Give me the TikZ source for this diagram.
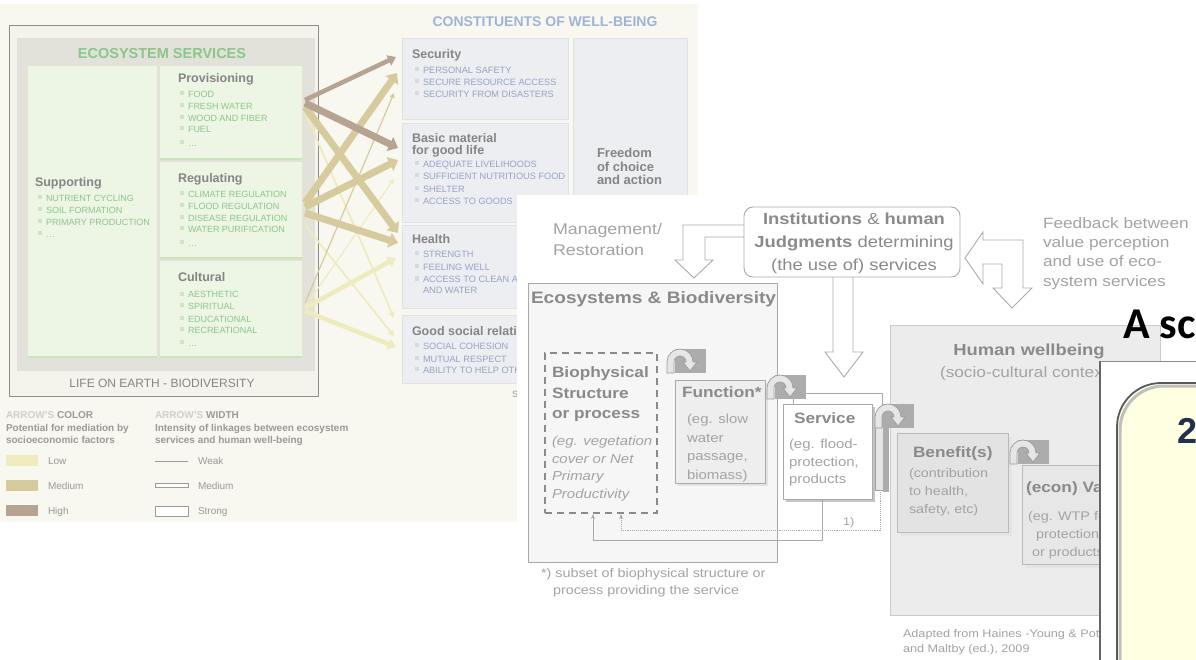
\documentclass[tikz,border=0pt]{standalone}
\usepackage{fontspec}
\setmainfont{Liberation Sans}
\newfontfamily\teeb[FakeStretch=1.15]{Liberation Sans}
\newfontfamily\calib{Carlito}
\usetikzlibrary{arrows.meta}
\newcommand\fsz[1]{\fontsize{#1}{#1}\selectfont}
% layer 1 colours
\definecolor{cream}{HTML}{F8F8F1}
\definecolor{lifefill}{HTML}{F4F4EC}
\definecolor{lifeline}{HTML}{8E8E88}
\definecolor{panelgray}{HTML}{E2E2DA}
\definecolor{lgreen}{HTML}{EDF5E4}
\definecolor{gline}{HTML}{CBE4B9}
\definecolor{gtext}{HTML}{8CC68A}
\definecolor{gbul}{HTML}{CFE3C5}
\definecolor{hgray}{HTML}{858585}
\definecolor{bhead}{HTML}{A0B3D6}
\definecolor{btext}{HTML}{95A3C4}
\definecolor{bbul}{HTML}{D5D9E3}
\definecolor{cboxc}{HTML}{EDEEF1}
\definecolor{cboxl}{HTML}{E0E2E6}
\definecolor{legl}{HTML}{CFCFCB}
\definecolor{legd}{HTML}{9A9A96}
\definecolor{abrown}{HTML}{B6A392}
\definecolor{atan}{HTML}{D5CB9C}
\definecolor{alight}{HTML}{EFEBBE}
% layer 2 colours
\definecolor{th}{HTML}{8A8A8A}
\definecolor{tl}{HTML}{A3A3A3}
\definecolor{bd}{HTML}{AAAAAA}
\definecolor{ecofill}{HTML}{F6F6F6}
\definecolor{funcfill}{HTML}{EEEEEE}
\definecolor{hwfill}{HTML}{ECECEC}
\definecolor{hwline}{HTML}{CACACA}
\definecolor{benfill}{HTML}{E3E3E3}
\definecolor{benline}{HTML}{B9B9B9}
\definecolor{iconrect}{HTML}{ACACAC}
\definecolor{archfill}{HTML}{E6E6E6}
\definecolor{archline}{HTML}{9C9C9C}
% layer 3 colours
\definecolor{yellowbox}{HTML}{FFFFE2}
\definecolor{navy}{HTML}{22304F}
\tikzset{
  box0/.style={anchor=north west, inner sep=0pt, outer sep=0pt},
  t/.style={anchor=base west, inner sep=0pt, outer sep=0pt},
  tc/.style={anchor=base, inner sep=0pt, outer sep=0pt},
  gbox/.style={box0, fill=lgreen},
  cbox/.style={box0, fill=cboxc, draw=cboxl, line width=0.6pt},
  hd/.style={t, text=hgray, font=\bfseries\fsz{12.5}},
  gi/.style={t, text=gtext, font=\fsz{9}},
  bi/.style={t, text=btext, font=\fsz{9.2}},
  leg/.style={t, text=legd, font=\bfseries\fsz{10}},
  legs/.style={t, text=legd, font=\fsz{10}},
  arrT/.style={line width=7pt, -{Triangle[length=9pt,width=15pt]}},
  arrM/.style={line width=4.5pt, -{Triangle[length=8pt,width=11pt]}},
  arrS/.style={line width=1.8pt, -{Triangle[length=6pt,width=6pt]}},
  arrXS/.style={line width=1.2pt, -{Triangle[length=5pt,width=5pt]}},
  hollow/.style={draw=bd, fill=white, line width=0.9pt, line join=miter},
  turnicon/.pic={
    \fill[iconrect] (9,3) rectangle (40,27);
    \path[fill=archfill, draw=archline, line width=0.7pt] (1,27) -- (1,16)
      arc[start angle=180, end angle=360, radius=13] -- (31,16) -- (24,25) -- (17,16) -- (20,16)
      arc[start angle=360, end angle=180, radius=6] -- (8,27) -- cycle;
  }
}
\newcommand\itemlist[5]{%
  \foreach \s/\y [count=\i] in {#5}{%
    \fill[#4] (#2,\y-6.5) rectangle +(4,4);
    \node[#3] (#1\i) at (#2+8,\y) {\s};
  }}
\begin{document}
\begin{tikzpicture}[x=1pt,y=-1pt]
\useasboundingbox (0,0) rectangle (1196,660);
\fill[white] (0,0) rectangle (1196,660);

% ================= LAYER 1 : MA framework =================
\fill[cream] (0,4) rectangle (698,522);
\node[box0, draw=lifeline, line width=0.9pt, fill=lifefill, minimum width=309pt, minimum height=371pt] (life) at (9,25) {};
\node[box0, fill=panelgray, minimum width=298pt, minimum height=333pt] (espanel) at (17,38) {};
\node[tc, font=\bfseries\fsz{14.5}, text=gtext] (estitle) at (162,59) {ECOSYSTEM SERVICES};
\node[gbox, minimum width=129pt, minimum height=291pt] (supp) at (28,66) {};
\node[gbox, minimum width=142pt, minimum height=93pt] (prov) at (160,66) {};
\node[gbox, minimum width=142pt, minimum height=96pt] (reg) at (160,162) {};
\node[gbox, minimum width=142pt, minimum height=96pt] (cult) at (160,261) {};
\foreach \b in {supp,prov,reg,cult} \draw[gline, line width=2pt] (\b.south west) -- (\b.south east);
\node[tc, font=\fsz{12}, text=hgray] (lifet) at (162,387) {LIFE ON EARTH - BIODIVERSITY};

\node[hd] (supph) at (35,187) {Supporting};
\node[hd] (provh) at (178,83) {Provisioning};
\node[hd] (regh) at (178,183) {Regulating};
\node[hd] (culth) at (178,282) {Cultural};
\itemlist{si}{38}{gi}{gbul}{NUTRIENT CYCLING/202,SOIL FORMATION/214,PRIMARY PRODUCTION/226,\dots/238}
\itemlist{pi}{180}{gi}{gbul}{FOOD/98,FRESH WATER/110,WOOD AND FIBER/122,FUEL/133,\dots/147}
\itemlist{ri}{180}{gi}{gbul}{CLIMATE REGULATION/198,FLOOD REGULATION/210,DISEASE REGULATION/222,WATER PURIFICATION/233,\dots/247}
\itemlist{ci}{180}{gi}{gbul}{AESTHETIC/298,SPIRITUAL/309,EDUCATIONAL/322,RECREATIONAL/333,\dots/346}

% constituents of well-being
\node[tc, font=\bfseries\fsz{14}, text=bhead] (cwtitle) at (545,27) {CONSTITUENTS OF WELL-BEING};
\node[cbox, minimum width=166pt, minimum height=81pt] (sec) at (402,38) {};
\node[cbox, minimum width=166pt, minimum height=99pt] (basic) at (402,123) {};
\node[cbox, minimum width=166pt, minimum height=83pt] (health) at (402,225) {};
\node[cbox, minimum width=166pt, minimum height=68pt] (social) at (402,315) {};
\node[cbox, minimum width=114pt, minimum height=345pt] (freedom) at (573,38) {};
\node[hd] (sech) at (412,59) {Security};
\node[hd] (basich1) at (412,143) {Basic material};
\node[hd] (basich2) at (412,155) {for good life};
\node[hd] (healthh) at (412,244) {Health};
\node[hd] (socialh) at (412,335) {Good social relations};
\itemlist{qi}{415}{bi}{bbul}{PERSONAL SAFETY/74,SECURE RESOURCE ACCESS/86,SECURITY FROM DISASTERS/98}
\itemlist{bmi}{415}{bi}{bbul}{ADEQUATE LIVELIHOODS/168,SUFFICIENT NUTRITIOUS FOOD/180,SHELTER/193,ACCESS TO GOODS/205}
\itemlist{hi}{415}{bi}{bbul}{STRENGTH/258,FEELING WELL/271,ACCESS TO CLEAN AIR/283}
\node[bi] (hi4) at (423,294) {AND WATER};
\itemlist{gsi}{415}{bi}{bbul}{SOCIAL COHESION/349,MUTUAL RESPECT/362,ABILITY TO HELP OTHERS/373}
\node[hd, font=\bfseries\fsz{13}] (fr1) at (597,158) {Freedom};
\node[hd, font=\bfseries\fsz{13}] (fr2) at (597,172) {of choice};
\node[hd, font=\bfseries\fsz{13}] (fr3) at (597,185) {and action};
\node[legs, font=\fsz{9}] (srcS) at (512,397) {S};

% linkage arrows
\coordinate (pA) at (305,100); \coordinate (pB) at (305,103); \coordinate (pC) at (305,107); \coordinate (pD) at (305,112);
\coordinate (rA) at (305,203); \coordinate (rB) at (305,207); \coordinate (rC) at (305,213); \coordinate (rD) at (305,225);
\coordinate (cA) at (305,303); \coordinate (cB) at (305,307); \coordinate (cC) at (305,308); \coordinate (cD) at (305,311);
\coordinate (sA) at (396,57); \coordinate (sB) at (397,73); \coordinate (sC) at (394,93);
\coordinate (bA) at (398,148); \coordinate (bB) at (398,160); \coordinate (bC) at (394,179);
\coordinate (hA) at (398,233); \coordinate (hB) at (398,243); \coordinate (hC) at (396,258);
\coordinate (gA) at (394,318); \coordinate (gB) at (394,336); \coordinate (gC) at (396,347);
\draw[alight, arrS] (pD) -- (gA);
\draw[alight, arrS] (rD) -- (gB);
\draw[alight, arrXS] (cB) -- (bC);
\draw[alight, arrM] (cC) -- (hC);
\draw[alight, arrM] (cD) -- (gC);
\draw[atan, arrXS] (cA) -- (sC);
\draw[atan, arrT] (pC) -- (hA);
\draw[atan, arrT] (rA) -- (sB);
\draw[atan, arrT] (rB) -- (bB);
\draw[atan, arrT] (rC) -- (hB);
\draw[abrown, arrM] (pA) -- (sA);
\draw[abrown, arrT] (pB) -- (bA);

% legend
\node[leg] (lc1) at (6,418) {\textcolor{legl}{ARROW'S} COLOR};
\node[leg] (lc2) at (6,431) {Potential for mediation by};
\node[leg] (lc3) at (6,443) {socioeconomic factors};
\node[box0, fill=alight, minimum width=32pt, minimum height=11pt] (swl) at (6,455) {};
\node[box0, fill=atan, minimum width=32pt, minimum height=11pt] (swm) at (6,480) {};
\node[box0, fill=abrown, minimum width=32pt, minimum height=11pt] (swh) at (6,505) {};
\node[legs] (lcl) at (48,464) {Low};
\node[legs] (lcm) at (48,489) {Medium};
\node[legs] (lch) at (48,514) {High};
\node[leg] (lw1) at (155,418) {\textcolor{legl}{ARROW'S} WIDTH};
\node[leg] (lw2) at (155,431) {Intensity of linkages between ecosystem};
\node[leg] (lw3) at (155,443) {services and human well-being};
\draw[legd, line width=0.9pt] (155,461) -- (188,461);
\draw[legd, line width=0.6pt, fill=white] (155,483) rectangle (188,487);
\draw[legd, line width=0.6pt, fill=white] (155,506) rectangle (188,516);
\node[legs] (lww) at (198,464) {Weak};
\node[legs] (lwm) at (198,489) {Medium};
\node[legs] (lws) at (198,514) {Strong};

% ================= LAYER 2 : TEEB cascade =================
\fill[white] (517,195) rectangle (1196,660);
\node[t, font={\teeb\fsz{15.5}}, text=tl] (mg1) at (553,235) {Management/};
\node[t, font={\teeb\fsz{15.5}}, text=tl] (mg2) at (553,255) {Restoration};
\node[t, font={\teeb\fsz{15}}, text=tl] (fb1) at (1043,229) {Feedback between};
\node[t, font={\teeb\fsz{15}}, text=tl] (fb2) at (1043,248) {value perception};
\node[t, font={\teeb\fsz{15}}, text=tl] (fb3) at (1043,267) {and use of eco-};
\node[t, font={\teeb\fsz{15}}, text=tl] (fb4) at (1043,287) {system services};

% ecosystems box
\node[box0, fill=ecofill, draw=bd, line width=0.9pt, minimum width=249pt, minimum height=279pt] (eco) at (528,283) {};
\node[t, font={\teeb\bfseries\fsz{16.6}}, text=th] (ecot) at (531,303) {Ecosystems \& Biodiversity};
\node[box0, draw=th, line width=2pt, dash pattern=on 7pt off 5pt, minimum width=112pt, minimum height=160pt] (bio) at (545,353) {};
\node[t, font={\teeb\bfseries\fsz{15}}, text=th] (bio1) at (552,377) {Biophysical};
\node[t, font={\teeb\bfseries\fsz{15}}, text=th] (bio2) at (552,398) {Structure};
\node[t, font={\teeb\bfseries\fsz{15}}, text=th] (bio3) at (552,418) {or process};
\node[t, font={\teeb\itshape\fsz{13}}, text=tl] (bio4) at (552,445) {(eg. vegetation};
\node[t, font={\teeb\itshape\fsz{13}}, text=tl] (bio5) at (552,463) {cover or Net};
\node[t, font={\teeb\itshape\fsz{13}}, text=tl] (bio6) at (552,480) {Primary};
\node[t, font={\teeb\itshape\fsz{13}}, text=tl] (bio7) at (552,498) {Productivity};

% function box
\fill[benfill] (678,383) rectangle (768,486);
\node[box0, fill=funcfill, draw=bd, line width=0.8pt, minimum width=90pt, minimum height=103pt] (func) at (675,380) {};
\node[t, font={\teeb\bfseries\fsz{15}}, text=th] (func1) at (682,397) {Function*};
\node[t, font={\teeb\fsz{13}}, text=tl] (func2) at (687,423) {(eg. slow};
\node[t, font={\teeb\fsz{13}}, text=tl] (func3) at (687,442) {water};
\node[t, font={\teeb\fsz{13}}, text=tl] (func4) at (687,460) {passage,};
\node[t, font={\teeb\fsz{13}}, text=tl] (func5) at (687,479) {biomass)};

% service boxes
\node[box0, fill=white, draw=bd, line width=0.8pt, minimum width=89pt, minimum height=97pt] (svcback) at (793,393) {};
\path[fill=archfill, draw=archline, line width=0.7pt] (875,426) rectangle (883,490);
\fill[iconrect] (883,426) rectangle (889,492);
\fill[iconrect!70] (786,407) rectangle (875,502);
\node[box0, fill=white, draw=bd, line width=0.8pt, minimum width=89pt, minimum height=95pt] (svc) at (783,404) {};
\node[t, font={\teeb\bfseries\fsz{15}}, text=th] (svc1) at (794,423) {Service};
\node[t, font={\teeb\fsz{13}}, text=tl] (svc2) at (789,448) {(eg. flood-};
\node[t, font={\teeb\fsz{13}}, text=tl] (svc3) at (789,466) {protection,};
\node[t, font={\teeb\fsz{13}}, text=tl] (svc4) at (789,483) {products};

% return lines
\coordinate (svcout) at (822,499);
\coordinate (bioin1) at (593,514);
\coordinate (svcdot) at (880,490);
\coordinate (bioin2) at (621,514);
\draw[bd, line width=0.9pt, -{Stealth[length=5pt,width=4pt]}] (svcout) -- (822,540) -- (593,540) -- (bioin1);
\draw[bd, line width=0.9pt, densely dotted, -{Stealth[length=5pt,width=4pt]}] (svcdot) -- (880,530) -- (621,530) -- (bioin2);
\node[t, font={\teeb\fsz{11}}, text=tl] (one) at (843,525) {1)};

% human wellbeing
\node[box0, fill=hwfill, draw=hwline, line width=0.8pt, minimum width=270pt, minimum height=290pt] (hw) at (890,325) {};
\node[tc, font={\teeb\bfseries\fsz{16}}, text=th] (hw1) at (1029,355) {Human wellbeing};
\node[t, font={\teeb\fsz{15}}, text=tl] (hw2) at (940,377) {(socio-cultural context)};
\fill[benfill!85!hwfill] (901,437) rectangle (1012,536);
\node[box0, fill=benfill, draw=benline, line width=0.8pt, minimum width=111pt, minimum height=99pt] (ben) at (897,433) {};
\node[t, font={\teeb\bfseries\fsz{15}}, text=th] (ben1) at (913,457) {Benefit(s)};
\node[t, font={\teeb\fsz{12.5}}, text=tl] (ben2) at (909,477) {(contribution};
\node[t, font={\teeb\fsz{12.5}}, text=tl] (ben3) at (909,495) {to health,};
\node[t, font={\teeb\fsz{12.5}}, text=tl] (ben4) at (909,513) {safety, etc)};
\fill[benfill!85!hwfill] (1026,469) rectangle (1116,568);
\node[box0, fill=benfill!60!hwfill, draw=benline, line width=0.8pt, minimum width=90pt, minimum height=99pt] (val) at (1022,465) {};
\node[t, font={\teeb\bfseries\fsz{15}}, text=th] (val1) at (1026,492) {(econ) Value};
\node[t, font={\teeb\fsz{12.5}}, text=tl] (val2) at (1028,520) {(eg. WTP for};
\node[t, font={\teeb\fsz{12.5}}, text=tl] (val3) at (1036,538) {protection};
\node[t, font={\teeb\fsz{12.5}}, text=tl] (val4) at (1032,556) {or products};

% turn icons
\pic at (666,346) {turnicon};
\pic at (766,372) {turnicon};
\pic at (874,401) {turnicon};
\pic at (1009,437) {turnicon};

% institutions and hollow arrows
\draw[hollow] (748,225) -- (683,225) -- (683,260) -- (675,260) -- (694,278) -- (713,260) -- (705,260) -- (705,237) -- (748,237) -- cycle;
\draw[hollow] (833,270) -- (853,270) -- (853,352) -- (863,352) -- (844,377) -- (825,352) -- (833,352) -- cycle;
\draw[hollow] (965,258) -- (983,232) -- (983,240) -- (1023,240) -- (1023,288) -- (1032,288) -- (1012,308) -- (993,288) -- (1002,288) -- (1002,264) -- (983,264) -- (983,284) -- cycle;
\node[box0, draw=bd, fill=white, rounded corners=9pt, line width=0.9pt, minimum width=216pt, minimum height=70pt] (inst) at (744,207) {};
\node[tc, font={\teeb\fsz{16}}, text=th] (inst1) at (854,225) {\textbf{Institutions} \& \textbf{human}};
\node[tc, font={\teeb\fsz{16}}, text=th] (inst2) at (854,248) {\textbf{Judgments} determining};
\node[tc, font={\teeb\fsz{16}}, text=th] (inst3) at (854,270) {(the use of) services};

% footnotes
\node[t, font={\teeb\fsz{12.5}}, text=tl] (fn1) at (541,577) {*) subset of biophysical structure or};
\node[t, font={\teeb\fsz{12.5}}, text=tl] (fn2) at (553,594) {process providing the service};
\node[t, font={\teeb\fsz{11}}, text=tl] (ad1) at (903,637) {Adapted from Haines -Young \& Potschin};
\node[t, font={\teeb\fsz{11}}, text=tl] (ad2) at (903,652) {and Maltby (ed.), 2009};

% ================= LAYER 3 : slide =================
\node[t, font=\calib\bfseries\fsz{44}, text=black] (asc) at (1123,338) {A sc};
\node[box0, fill=white, minimum width=96pt, minimum height=299pt] (panel) at (1100,361) {};
\draw[black!45, line width=0.8pt] (1100,361) -- (1196,361);
\draw[black!60, line width=2.2pt] (1100,361) -- (1100,660);
\fill[yellowbox, rounded corners=44pt] (1117,700) -- (1117,383) -- (1260,383) [sharp corners] -- (1260,700) -- cycle;
\draw[black!25, line width=3pt, rounded corners=44pt] (1120,700) -- (1120,386) -- (1260,386);
\draw[black!65, line width=1.8pt, rounded corners=44pt] (1117,700) -- (1117,383) -- (1260,383);
\node[t, font=\bfseries\fsz{36}, text=navy] (two) at (1177,443) {2};
\end{tikzpicture}
\end{document}
